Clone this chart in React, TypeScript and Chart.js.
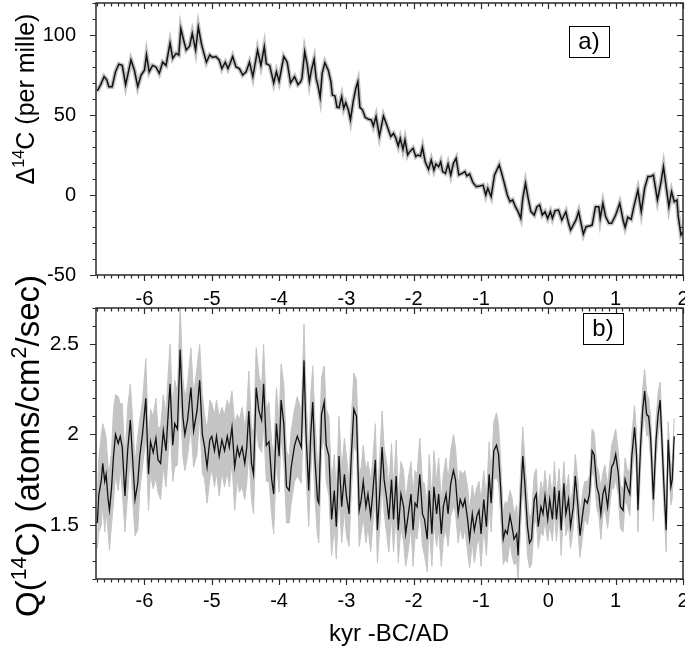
import React, { useEffect, useRef } from "react";
import { Chart, registerables } from "chart.js";
Chart.register(...registerables);

const FONT = "'Liberation Sans', Arial, sans-serif";

const xTicks = [-6, -5, -4, -3, -2, -1, 0, 1, 2];
const xMin = -6.72;
const xMax = 2;
const topYTicks = [-50, 0, 50, 100];
const topYMin = -50;
const topYMax = 120;
const botYTicks = [1.5, 2, 2.5];
const botYMin = 1.2;
const botYMax = 2.7;

// Panel a) Delta14C (per mille)
const d14cYears = [
  -6.70, -6.65, -6.60, -6.56, -6.53, -6.48, -6.43, -6.38, -6.33, -6.28,
  -6.20, -6.15, -6.10, -6.05, -6.00, -5.97, -5.93, -5.88, -5.83, -5.78,
  -5.73, -5.68, -5.62, -5.58, -5.53, -5.49, -5.46, -5.42, -5.38, -5.33,
  -5.29, -5.24, -5.20, -5.15, -5.08, -5.03, -4.99, -4.94, -4.89, -4.85,
  -4.80, -4.76, -4.73, -4.69, -4.64, -4.59, -4.54, -4.49, -4.44, -4.39,
  -4.32, -4.27, -4.22, -4.19, -4.14, -4.08, -4.04, -4.00, -3.93, -3.88,
  -3.83, -3.77, -3.72, -3.68, -3.66, -3.62, -3.58, -3.55, -3.52, -3.48,
  -3.45, -3.42, -3.39, -3.36, -3.32, -3.27, -3.23, -3.21, -3.17, -3.14,
  -3.11, -3.07, -3.04, -3.01, -2.97, -2.94, -2.90, -2.86, -2.83, -2.80,
  -2.76, -2.72, -2.67, -2.63, -2.60, -2.56, -2.51, -2.48, -2.45, -2.41,
  -2.37, -2.34, -2.30, -2.27, -2.23, -2.20, -2.16, -2.13, -2.09, -2.06,
  -2.01, -1.97, -1.94, -1.90, -1.87, -1.83, -1.78, -1.74, -1.70, -1.67,
  -1.63, -1.60, -1.57, -1.53, -1.49, -1.45, -1.41, -1.37, -1.33, -1.28,
  -1.24, -1.21, -1.17, -1.12, -1.07, -1.02, -0.97, -0.93, -0.90, -0.85,
  -0.80, -0.73, -0.70, -0.66, -0.61, -0.57, -0.53, -0.49, -0.45, -0.41,
  -0.38, -0.34, -0.30, -0.26, -0.21, -0.17, -0.13, -0.09, -0.05, -0.01,
  0.03, 0.06, 0.10, 0.15, 0.20, 0.26, 0.30, 0.33, 0.37, 0.41,
  0.45, 0.48, 0.52, 0.56, 0.61, 0.65, 0.70, 0.75, 0.77, 0.81,
  0.85, 0.90, 0.94, 1.00, 1.06, 1.11, 1.14, 1.18, 1.23, 1.27,
  1.33, 1.38, 1.43, 1.48, 1.52, 1.56, 1.62, 1.67, 1.71, 1.75,
  1.79, 1.83, 1.87, 1.91, 1.93, 1.97, 2.00,
];
const d14cValues = [
  65, 69, 74, 72, 67.7, 67.7, 77, 81.7, 81, 68.8,
  84.4, 78, 67.7, 75, 78, 87.5, 77, 81, 80, 76,
  83, 81, 95, 85.4, 88.5, 87.5, 104, 97, 90.6, 93,
  101, 90.6, 105, 93.7, 83, 87.5, 86, 86.5, 84.4, 79,
  83, 79, 82, 86.5, 80, 79, 75, 77, 83, 74,
  90.6, 81, 92.7, 82, 81, 70, 77, 71, 86.5, 83,
  70, 74, 69, 70.8, 73, 89.6, 81, 70.8, 78, 84.8,
  73, 67.7, 61, 76, 82.7, 78, 70.8, 62.5, 61.9, 54.8,
  54.6, 61.5, 54.2, 57.7, 53.1, 46.9, 58.3, 66.7, 70.8, 54.8,
  53.1, 48.5, 47.3, 46.9, 43.1, 49, 36.9, 43.1, 49.4, 44.8,
  40, 36.5, 38.5, 36, 30.6, 35.4, 28.5, 34.4, 25, 27.1,
  29.2, 24, 25, 24.4, 29.8, 20.8, 16, 21.9, 15.6, 19.4,
  17.7, 20.8, 14.6, 13.5, 19.4, 12.5, 19.8, 22.9, 12.5, 13.5,
  14.6, 11.9, 13.1, 7.7, 5.2, 5.6, 6.2, 0, 4.2, -1,
  12.5, 18.8, 14.6, 8.3, 0, -4.2, -3.1, -7.3, -10.4, -14.6,
  -2.1, 7.3, -2.1, -10.4, -12.5, -7.3, -6.2, -12.5, -10.4, -14.6,
  -10.4, -14.6, -9.8, -9.4, -15.6, -10.4, -17.7, -21.9, -18.8, -15.6,
  -10.4, -16.7, -24.4, -19.8, -19.4, -18.8, -7.3, -7.3, -14.6, -5.2,
  -13.5, -17.7, -17.7, -12.5, -5.2, -15.6, -20.2, -13.9, -15.2, -7.3,
  3.1, -10.4, 4.2, 11.5, 11.5, 12.5, -3.1, 7.3, 17.7, 5.2,
  -7.3, 2.1, -4.2, -3.1, -13.5, -25, -23,
];

// Panel b) Q(14C) production rate
const qYears = [
  -6.70, -6.68, -6.64, -6.62, -6.59, -6.57, -6.54, -6.52, -6.49, -6.46,
  -6.43, -6.39, -6.36, -6.33, -6.29, -6.25, -6.21, -6.18, -6.14, -6.10,
  -6.07, -6.03, -5.98, -5.94, -5.91, -5.87, -5.83, -5.80, -5.76, -5.72,
  -5.68, -5.66, -5.62, -5.58, -5.55, -5.51, -5.47, -5.43, -5.40, -5.36,
  -5.31, -5.27, -5.22, -5.18, -5.14, -5.11, -5.07, -5.03, -5.00, -4.96,
  -4.93, -4.89, -4.85, -4.81, -4.77, -4.74, -4.70, -4.66, -4.62, -4.59,
  -4.55, -4.51, -4.48, -4.45, -4.41, -4.38, -4.34, -4.30, -4.26, -4.23,
  -4.19, -4.15, -4.11, -4.08, -4.04, -4.00, -3.97, -3.93, -3.89, -3.85,
  -3.82, -3.77, -3.73, -3.67, -3.63, -3.60, -3.56, -3.53, -3.50, -3.47,
  -3.43, -3.41, -3.37, -3.33, -3.30, -3.26, -3.22, -3.18, -3.15, -3.11,
  -3.07, -3.03, -3.00, -2.96, -2.93, -2.89, -2.85, -2.81, -2.78, -2.75,
  -2.71, -2.68, -2.64, -2.61, -2.57, -2.54, -2.50, -2.47, -2.44, -2.40,
  -2.37, -2.33, -2.30, -2.26, -2.23, -2.19, -2.15, -2.12, -2.08, -2.04,
  -2.01, -1.98, -1.95, -1.91, -1.87, -1.84, -1.80, -1.77, -1.73, -1.70,
  -1.66, -1.63, -1.59, -1.56, -1.52, -1.49, -1.45, -1.41, -1.38, -1.34,
  -1.31, -1.27, -1.24, -1.20, -1.17, -1.13, -1.10, -1.06, -1.03, -1.00,
  -0.96, -0.92, -0.88, -0.85, -0.81, -0.77, -0.74, -0.71, -0.67, -0.64,
  -0.61, -0.57, -0.54, -0.51, -0.47, -0.45, -0.41, -0.38, -0.35, -0.31,
  -0.28, -0.25, -0.21, -0.18, -0.15, -0.11, -0.08, -0.05, -0.01, 0.02,
  0.06, 0.09, 0.12, 0.16, 0.19, 0.23, 0.26, 0.30, 0.33, 0.37,
  0.40, 0.44, 0.47, 0.51, 0.54, 0.58, 0.61, 0.65, 0.68, 0.72,
  0.75, 0.78, 0.81, 0.84, 0.88, 0.91, 0.94, 0.97, 1.00, 1.04,
  1.07, 1.11, 1.14, 1.17, 1.21, 1.24, 1.28, 1.31, 1.33, 1.37,
  1.40, 1.43, 1.46, 1.49, 1.52, 1.56, 1.60, 1.63, 1.66, 1.69,
  1.72, 1.75, 1.78, 1.82, 1.84, 1.87,
];
const qValues = [
  1.51, 1.66, 1.75, 1.84, 1.74, 1.78, 1.64, 1.58, 1.70, 1.88,
  2.00, 1.95, 1.99, 1.93, 1.66, 1.91, 2.08, 1.89, 1.64, 1.73,
  1.88, 2.00, 2.20, 1.78, 1.96, 1.90, 1.98, 1.86, 1.84, 2.02,
  1.91, 2.04, 2.28, 1.94, 2.06, 2.03, 2.47, 2.10, 2.00, 2.08,
  2.26, 2.02, 2.13, 2.30, 2.00, 1.94, 1.82, 1.97, 1.99, 1.91,
  1.99, 1.88, 1.97, 1.91, 1.99, 1.93, 2.04, 1.82, 1.93, 1.88,
  1.93, 1.84, 1.93, 2.13, 1.84, 1.78, 2.26, 2.13, 2.08, 2.28,
  1.94, 1.96, 1.75, 1.67, 2.06, 1.88, 2.19, 2.06, 1.71, 1.69,
  1.82, 1.94, 1.99, 1.93, 2.41, 2.00, 1.69, 2.00, 2.18, 1.88,
  1.64, 1.62, 2.11, 2.18, 1.94, 1.88, 1.53, 1.69, 1.49, 1.88,
  1.60, 1.78, 1.66, 1.56, 1.86, 2.14, 2.10, 1.58, 1.64, 1.74,
  1.60, 1.67, 1.55, 1.67, 1.86, 1.47, 1.71, 1.93, 1.75, 1.64,
  1.53, 1.75, 1.53, 1.77, 1.47, 1.67, 1.60, 1.45, 1.56, 1.67,
  1.47, 1.62, 1.60, 1.78, 1.56, 1.53, 1.42, 1.69, 1.45, 1.71,
  1.56, 1.67, 1.45, 1.60, 1.67, 1.56, 1.73, 1.80, 1.75, 1.56,
  1.64, 1.60, 1.64, 1.53, 1.42, 1.56, 1.47, 1.55, 1.58, 1.45,
  1.64, 1.49, 1.78, 1.62, 1.91, 1.94, 1.89, 1.71, 1.42, 1.47,
  1.45, 1.55, 1.49, 1.42, 1.45, 1.33, 1.66, 1.88, 1.73, 1.49,
  1.40, 1.42, 1.64, 1.67, 1.49, 1.60, 1.56, 1.66, 1.53, 1.64,
  1.53, 1.71, 1.53, 1.69, 1.47, 1.73, 1.56, 1.64, 1.49, 1.60,
  1.77, 1.60, 1.44, 1.56, 1.64, 1.62, 1.67, 1.91, 1.89, 1.71,
  1.67, 1.56, 1.67, 1.71, 1.60, 1.71, 1.82, 1.84, 1.89, 1.78,
  1.60, 1.58, 1.75, 1.71, 1.67, 1.88, 2.04, 1.89, 1.58, 1.94,
  2.13, 2.24, 2.11, 2.10, 1.98, 1.64, 1.97, 2.11, 2.19, 1.94,
  1.69, 1.47, 1.97, 1.71, 1.75, 1.99,
];
const qErr = [
  0.14, 0.20, 0.25, 0.22, 0.28, 0.20, 0.18, 0.22, 0.20, 0.26,
  0.22, 0.26, 0.18, 0.24, 0.20, 0.24, 0.20, 0.22, 0.20, 0.26,
  0.20, 0.18, 0.22, 0.20, 0.18, 0.20, 0.22, 0.18, 0.20, 0.20,
  0.20, 0.22, 0.22, 0.20, 0.24, 0.20, 0.24, 0.22, 0.20, 0.20,
  0.22, 0.20, 0.24, 0.20, 0.22, 0.18, 0.20, 0.22, 0.18, 0.20,
  0.20, 0.22, 0.18, 0.20, 0.20, 0.22, 0.20, 0.24, 0.18, 0.20,
  0.22, 0.20, 0.20, 0.22, 0.20, 0.22, 0.22, 0.20, 0.18, 0.22,
  0.20, 0.22, 0.20, 0.22, 0.20, 0.20, 0.20, 0.22, 0.20, 0.18,
  0.20, 0.20, 0.22, 0.20, 0.20, 0.22, 0.20, 0.22, 0.20, 0.22,
  0.20, 0.22, 0.20, 0.20, 0.20, 0.22, 0.20, 0.20, 0.18, 0.22,
  0.20, 0.20, 0.22, 0.18, 0.20, 0.20, 0.20, 0.20, 0.18, 0.20,
  0.20, 0.18, 0.20, 0.18, 0.20, 0.18, 0.20, 0.20, 0.18, 0.20,
  0.18, 0.20, 0.18, 0.20, 0.18, 0.18, 0.20, 0.18, 0.20, 0.18,
  0.20, 0.18, 0.18, 0.20, 0.18, 0.20, 0.18, 0.20, 0.18, 0.20,
  0.18, 0.20, 0.18, 0.18, 0.20, 0.18, 0.18, 0.20, 0.18, 0.16,
  0.16, 0.18, 0.16, 0.18, 0.16, 0.16, 0.18, 0.16, 0.16, 0.18,
  0.16, 0.16, 0.18, 0.16, 0.16, 0.18, 0.16, 0.16, 0.14, 0.16,
  0.16, 0.14, 0.16, 0.14, 0.16, 0.14, 0.16, 0.16, 0.14, 0.16,
  0.14, 0.14, 0.14, 0.14, 0.12, 0.14, 0.12, 0.14, 0.12, 0.14,
  0.12, 0.14, 0.12, 0.12, 0.14, 0.12, 0.12, 0.14, 0.12, 0.12,
  0.12, 0.14, 0.12, 0.12, 0.10, 0.12, 0.10, 0.12, 0.12, 0.12,
  0.12, 0.14, 0.12, 0.12, 0.12, 0.12, 0.12, 0.14, 0.14, 0.12,
  0.12, 0.12, 0.12, 0.10, 0.12, 0.12, 0.12, 0.12, 0.12, 0.12,
  0.12, 0.12, 0.12, 0.10, 0.12, 0.12, 0.12, 0.12, 0.10, 0.12,
  0.12, 0.12, 0.10, 0.10, 0.10, 0.10,
];

type Seg = [string, boolean];

function drawRich(ctx: CanvasRenderingContext2D, segs: Seg[], size: number, cx: number, cy: number, rotate: boolean) {
  const supSize = size * 0.65;
  let total = 0;
  for (const [t, sup] of segs) {
    ctx.font = `${sup ? supSize : size}px ${FONT}`;
    total += ctx.measureText(t).width;
  }
  ctx.save();
  ctx.translate(cx, cy);
  if (rotate) ctx.rotate(-Math.PI / 2);
  ctx.fillStyle = "#000";
  ctx.textBaseline = "alphabetic";
  ctx.textAlign = "left";
  let x = -total / 2;
  for (const [t, sup] of segs) {
    ctx.font = `${sup ? supSize : size}px ${FONT}`;
    ctx.fillText(t, x, sup ? -size * 0.4 : 0);
    x += ctx.measureText(t).width;
  }
  ctx.restore();
}

function framePlugin(opts: {
  yMinor: number;
  yMajor: number;
  label: string;
  box: [number, number, number, number];
  texts: (ctx: CanvasRenderingContext2D) => void;
}) {
  return {
    id: "frame",
    afterDraw(chart: any) {
      const { ctx, chartArea: a, scales } = chart;
      const xs = scales.x;
      const ys = scales.y;
      ctx.save();
      ctx.strokeStyle = "#2a2a2a";
      ctx.lineWidth = 1.2;
      ctx.beginPath();
      for (let i = Math.ceil(xMin * 10); i <= Math.floor(xMax * 10 + 1e-6); i++) {
        const px = Math.round(xs.getPixelForValue(i / 10)) + 0.5;
        const len = i % 10 === 0 ? 6 : 3.5;
        ctx.moveTo(px, a.bottom);
        ctx.lineTo(px, a.bottom + len);
        ctx.moveTo(px, a.top);
        ctx.lineTo(px, a.top + len);
      }
      const y0 = Math.ceil(ys.min / opts.yMinor - 1e-6);
      const y1 = Math.floor(ys.max / opts.yMinor + 1e-6);
      for (let i = y0; i <= y1; i++) {
        const v = i * opts.yMinor;
        const r = v / opts.yMajor;
        const major = Math.abs(r - Math.round(r)) < 1e-6;
        const py = Math.round(ys.getPixelForValue(v)) + 0.5;
        const len = major ? 6 : 3.5;
        ctx.moveTo(a.left, py);
        ctx.lineTo(a.left - len, py);
        ctx.moveTo(a.right, py);
        ctx.lineTo(a.right - len, py);
      }
      ctx.stroke();
      ctx.lineWidth = 1.5;
      ctx.strokeRect(a.left, a.top, a.right - a.left, a.bottom - a.top);
      const [bx, by, bw, bh] = opts.box;
      ctx.fillStyle = "#fff";
      ctx.fillRect(bx, by, bw, bh);
      ctx.lineWidth = 1;
      ctx.strokeStyle = "#000";
      ctx.strokeRect(bx + 0.5, by + 0.5, bw, bh);
      ctx.fillStyle = "#000";
      ctx.font = `24px ${FONT}`;
      ctx.textAlign = "center";
      ctx.textBaseline = "middle";
      ctx.fillText(opts.label, bx + bw / 2, by + bh / 2 + 1);
      ctx.restore();
      opts.texts(ctx);
    },
  };
}

function xScale(height: number, padding: number) {
  return {
    type: "linear",
    min: xMin,
    max: xMax,
    grid: { display: false },
    border: { display: false },
    afterBuildTicks: (s: any) => {
      s.ticks = xTicks.map((v) => ({ value: v }));
    },
    ticks: {
      font: { family: FONT, size: 20 },
      color: "#000",
      padding,
      maxRotation: 0,
      autoSkip: false,
      callback: (v: any) => String(v),
    },
    afterFit: (s: any) => {
      s.height = height;
      s.paddingLeft = 0;
      s.paddingRight = 0;
    },
  };
}

function yScale(min: number, max: number, ticks: number[], size: number, padding: number) {
  return {
    type: "linear",
    min,
    max,
    grid: { display: false },
    border: { display: false },
    afterBuildTicks: (s: any) => {
      s.ticks = ticks.map((v) => ({ value: v }));
    },
    ticks: {
      font: { family: FONT, size },
      color: "#000",
      padding,
      callback: (v: any) => String(v),
    },
    afterFit: (s: any) => {
      s.width = 96;
      s.paddingTop = 0;
      s.paddingBottom = 0;
    },
  };
}

export default function App() {
  const topRef = useRef<HTMLCanvasElement>(null);
  const botRef = useRef<HTMLCanvasElement>(null);

  useEffect(() => {
    document.body.style.margin = "0";
    const topPts = d14cYears.map((x, i) => ({ x, y: d14cValues[i] }));
    const topPts2 = d14cYears.map((x, i) => ({ x, y: d14cValues[i] }));
    const qPts = qYears.map((x, i) => ({ x, y: qValues[i] }));
    const qUp = qYears.map((x, i) => ({ x, y: qValues[i] + qErr[i] }));
    const qLo = qYears.map((x, i) => ({ x, y: qValues[i] - qErr[i] }));

    const c1 = new Chart(topRef.current as HTMLCanvasElement, {
      type: "line",
      data: {
        datasets: [
          { data: topPts, borderColor: "#111", borderWidth: 1.5, pointRadius: 0, tension: 0 },
          { data: topPts2, borderColor: "#c2c2c2", borderWidth: 4.5, pointRadius: 0, tension: 0 },
        ],
      },
      options: {
        animation: false,
        responsive: false,
        events: [],
        layout: { padding: { top: 3, right: 2, left: 0, bottom: 345 } },
        plugins: { legend: { display: false }, tooltip: { enabled: false } },
        scales: {
          x: xScale(30, 4) as any,
          y: yScale(topYMin, topYMax, topYTicks, 20, 12) as any,
        },
      },
      plugins: [
        framePlugin({
          yMinor: 10,
          yMajor: 50,
          label: "a)",
          box: [569, 26, 40, 31],
          texts: (ctx) => {
            drawRich(ctx, [["Δ", false], ["14", true], ["C (per mille)", false]], 25, 34, 99, true);
          },
        }) as any,
      ],
    });

    const c2 = new Chart(botRef.current as HTMLCanvasElement, {
      type: "line",
      data: {
        datasets: [
          { data: qPts, borderColor: "#111", borderWidth: 1.3, pointRadius: 0, fill: false, tension: 0 },
          { data: qUp, borderColor: "#c4c4c4", borderWidth: 1, pointRadius: 0, fill: false, tension: 0 },
          { data: qLo, borderColor: "#c4c4c4", borderWidth: 1, pointRadius: 0, fill: "-1", backgroundColor: "#c4c4c4", tension: 0 },
        ],
      },
      options: {
        animation: false,
        responsive: false,
        events: [],
        layout: { padding: { top: 308, right: 2, left: 0, bottom: 0 } },
        plugins: { legend: { display: false }, tooltip: { enabled: false } },
        scales: {
          x: xScale(71, 2) as any,
          y: yScale(botYMin, botYMax, botYTicks, 21, 9) as any,
        },
      },
      plugins: [
        framePlugin({
          yMinor: 0.1,
          yMajor: 0.5,
          label: "b)",
          box: [583, 313, 40, 31],
          texts: (ctx) => {
            drawRich(
              ctx,
              [["Q(", false], ["14", true], ["C) (atoms/cm", false], ["2", true], ["/sec)", false]],
              33,
              39,
              446,
              true
            );
            drawRich(ctx, [["kyr -BC/AD", false]], 24, 389, 641, false);
          },
        }) as any,
      ],
    });

    return () => {
      c1.destroy();
      c2.destroy();
    };
  }, []);

  return (
    <div style={{ position: "absolute", left: 0, top: 0, width: 685, height: 650, background: "#fff" }}>
      <canvas ref={topRef} width={685} height={650} style={{ position: "absolute", left: 0, top: 0 }} />
      <canvas ref={botRef} width={685} height={650} style={{ position: "absolute", left: 0, top: 0 }} />
    </div>
  );
}
